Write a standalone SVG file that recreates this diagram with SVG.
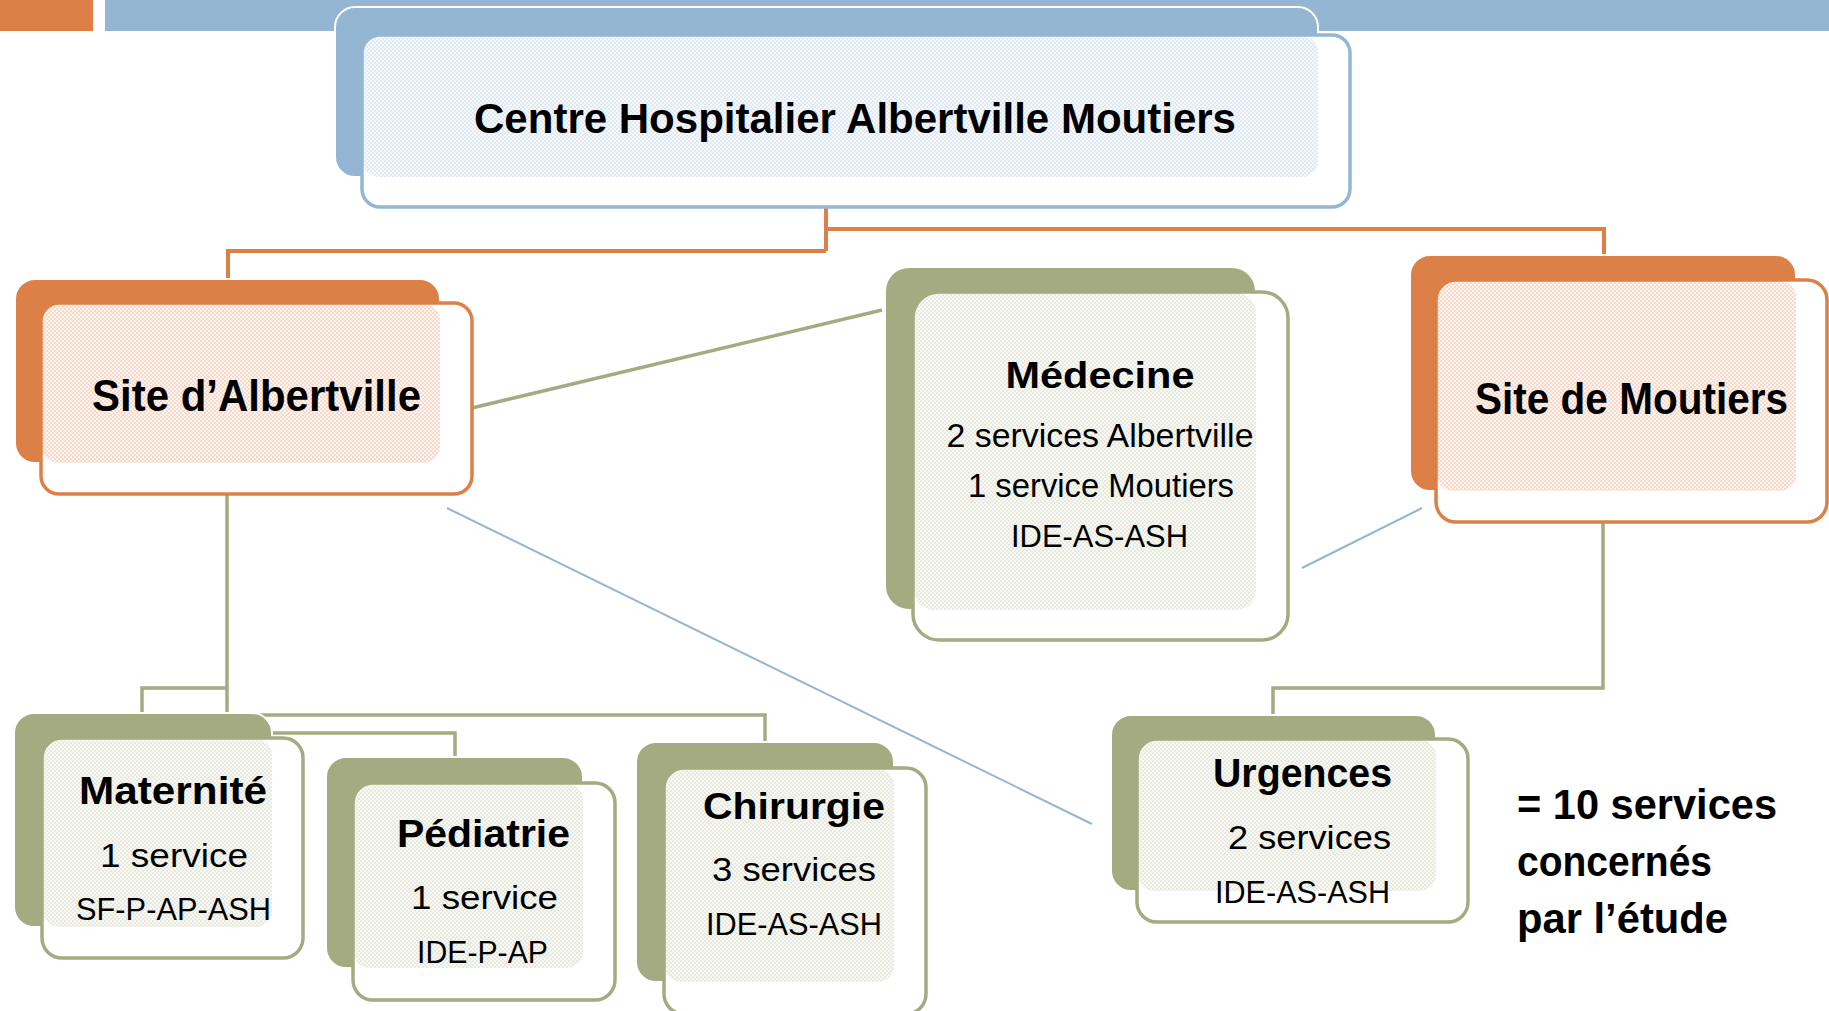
<svg xmlns="http://www.w3.org/2000/svg" width="1829" height="1011" viewBox="0 0 1829 1011">
<style>
.bo{fill:#DD8047;stroke:#fff;stroke-width:2}
.bb{fill:#94B6D2;stroke:#fff;stroke-width:2}
.bg{fill:#A5AB81;stroke:#fff;stroke-width:2}
.fw{fill:#fff;stroke:none}
.so{fill:none;stroke:#DD8047;stroke-width:3.5}
.sb{fill:none;stroke:#94B6D2;stroke-width:3.5}
.sg{fill:none;stroke:#A5AB81;stroke-width:3.5}
text{font-family:"Liberation Sans",Arial,sans-serif;fill:#000;text-anchor:middle}
.h{font-weight:bold}
.l{text-anchor:start}
</style>
<defs>
<pattern id="pb" width="4" height="4" patternUnits="userSpaceOnUse"><rect width="4" height="4" fill="#F6F9FC"/><rect width="2" height="2" fill="#E1E9F3"/><rect x="2" y="2" width="2" height="2" fill="#E1E9F3"/></pattern>
<pattern id="po" width="4" height="4" patternUnits="userSpaceOnUse"><rect width="4" height="4" fill="#FDF4EF"/><rect width="2" height="2" fill="#F7DACA"/><rect x="2" y="2" width="2" height="2" fill="#F7DACA"/></pattern>
<pattern id="pg" width="4" height="4" patternUnits="userSpaceOnUse"><rect width="4" height="4" fill="#F8F8F4"/><rect width="2" height="2" fill="#E8EADF"/><rect x="2" y="2" width="2" height="2" fill="#E8EADF"/></pattern>
</defs>
<rect x="0" y="0" width="93" height="31" fill="#DD8047"/>
<rect x="105" y="0" width="1724" height="31" fill="#94B6D2"/>
<g id="connectors" fill="none" stroke-linecap="butt">
<path d="M826 208V251M826 229H1604V256M826 251H228V280" stroke="#DD8047" stroke-width="4"/>
<path d="M472 408L882 310M227 494V735M227 688H142V714M227 715H765V743M227 733H455V758M1603 522V688H1273V716" stroke="#A5AB81" stroke-width="3.5"/>
<path d="M447 508L1092 824M1302 568L1422 508" stroke="#94B6D2" stroke-width="2"/>
</g>
<g id="node-top">
<rect class="bb" x="335" y="7" width="983" height="170" rx="20"/>
<rect class="fw" x="362" y="35" width="988" height="172" rx="18"/>
<rect fill="url(#pb)" x="363" y="36" width="955" height="141" rx="16"/>
<rect class="sb" x="362" y="35" width="988" height="172" rx="18"/>
<text class="h" x="855" y="133" font-size="42" textLength="762" lengthAdjust="spacingAndGlyphs">Centre Hospitalier Albertville Moutiers</text>
</g>
<g id="node-albertville">
<rect class="bo" x="15" y="279" width="425" height="184" rx="20"/>
<rect class="fw" x="41" y="303" width="431" height="191" rx="18"/>
<rect fill="url(#po)" x="42" y="304" width="398" height="159" rx="16"/>
<rect class="so" x="41" y="303" width="431" height="191" rx="18"/>
<text class="h" x="256.5" y="411" font-size="45" textLength="329" lengthAdjust="spacingAndGlyphs">Site d’Albertville</text>
</g>
<g id="node-medecine">
<rect class="bg" x="885" y="267" width="371" height="343" rx="24"/>
<rect class="fw" x="913" y="292" width="375" height="348" rx="26"/>
<rect fill="url(#pg)" x="914" y="293" width="342" height="317" rx="20"/>
<rect class="sg" x="913" y="292" width="375" height="348" rx="26"/>
<text class="h" x="1100" y="388" font-size="37" textLength="189" lengthAdjust="spacingAndGlyphs">Médecine</text>
<text x="1100" y="447" font-size="33" textLength="307" lengthAdjust="spacingAndGlyphs">2 services Albertville</text>
<text x="1101" y="497" font-size="33" textLength="266" lengthAdjust="spacingAndGlyphs">1 service Moutiers</text>
<text x="1099.5" y="547" font-size="32" textLength="177" lengthAdjust="spacingAndGlyphs">IDE-AS-ASH</text>
</g>
<g id="node-moutiers">
<rect class="bo" x="1410" y="255" width="386" height="236" rx="20"/>
<rect class="fw" x="1436" y="280" width="391" height="242" rx="20"/>
<rect fill="url(#po)" x="1437" y="281" width="359" height="210" rx="16"/>
<rect class="so" x="1436" y="280" width="391" height="242" rx="20"/>
<text class="h" x="1631.5" y="414" font-size="44" textLength="313" lengthAdjust="spacingAndGlyphs">Site de Moutiers</text>
</g>
<g id="node-maternite">
<rect class="bg" x="14" y="713" width="258" height="214" rx="20"/>
<rect class="fw" x="42" y="738" width="261" height="220" rx="20"/>
<rect fill="url(#pg)" x="43" y="739" width="229" height="188" rx="16"/>
<rect class="sg" x="42" y="738" width="261" height="220" rx="20"/>
<text class="h" x="173" y="804" font-size="39" textLength="188" lengthAdjust="spacingAndGlyphs">Maternité</text>
<text x="174" y="867" font-size="33" textLength="148" lengthAdjust="spacingAndGlyphs">1 service</text>
<text x="173.5" y="920" font-size="32" textLength="195" lengthAdjust="spacingAndGlyphs">SF-P-AP-ASH</text>
</g>
<g id="node-pediatrie">
<rect class="bg" x="326" y="757" width="257" height="211" rx="20"/>
<rect class="fw" x="353" y="783" width="262" height="217" rx="20"/>
<rect fill="url(#pg)" x="354" y="784" width="229" height="184" rx="16"/>
<rect class="sg" x="353" y="783" width="262" height="217" rx="20"/>
<text class="h" x="483.5" y="847" font-size="39" textLength="173" lengthAdjust="spacingAndGlyphs">Pédiatrie</text>
<text x="484.5" y="909" font-size="33" textLength="147" lengthAdjust="spacingAndGlyphs">1 service</text>
<text x="482.5" y="963" font-size="32" textLength="131" lengthAdjust="spacingAndGlyphs">IDE-P-AP</text>
</g>
<g id="node-chirurgie">
<rect class="bg" x="636" y="742" width="258" height="240" rx="20"/>
<rect class="fw" x="664" y="768" width="262" height="246" rx="20"/>
<rect fill="url(#pg)" x="665" y="769" width="229" height="213" rx="16"/>
<rect class="sg" x="664" y="768" width="262" height="246" rx="20"/>
<text class="h" x="794" y="819" font-size="37" textLength="182" lengthAdjust="spacingAndGlyphs">Chirurgie</text>
<text x="794" y="881" font-size="33" textLength="164" lengthAdjust="spacingAndGlyphs">3 services</text>
<text x="794" y="935" font-size="32" textLength="176" lengthAdjust="spacingAndGlyphs">IDE-AS-ASH</text>
</g>
<g id="node-urgences">
<rect class="bg" x="1111" y="715" width="325" height="176" rx="20"/>
<rect class="fw" x="1137" y="739" width="331" height="183" rx="20"/>
<rect fill="url(#pg)" x="1138" y="740" width="298" height="151" rx="16"/>
<rect class="sg" x="1137" y="739" width="331" height="183" rx="20"/>
<text class="h" x="1302.5" y="787" font-size="40" textLength="179" lengthAdjust="spacingAndGlyphs">Urgences</text>
<text x="1309.5" y="849" font-size="34" textLength="163" lengthAdjust="spacingAndGlyphs">2 services</text>
<text x="1302.5" y="903" font-size="32" textLength="175" lengthAdjust="spacingAndGlyphs">IDE-AS-ASH</text>
</g>
<g id="summary">
<text class="h l" x="1517" y="819" font-size="42" textLength="260" lengthAdjust="spacingAndGlyphs">= 10 services</text>
<text class="h l" x="1517" y="876" font-size="42" textLength="195" lengthAdjust="spacingAndGlyphs">concernés</text>
<text class="h l" x="1517" y="933" font-size="42" textLength="211" lengthAdjust="spacingAndGlyphs">par l’étude</text>
</g>
</svg>
